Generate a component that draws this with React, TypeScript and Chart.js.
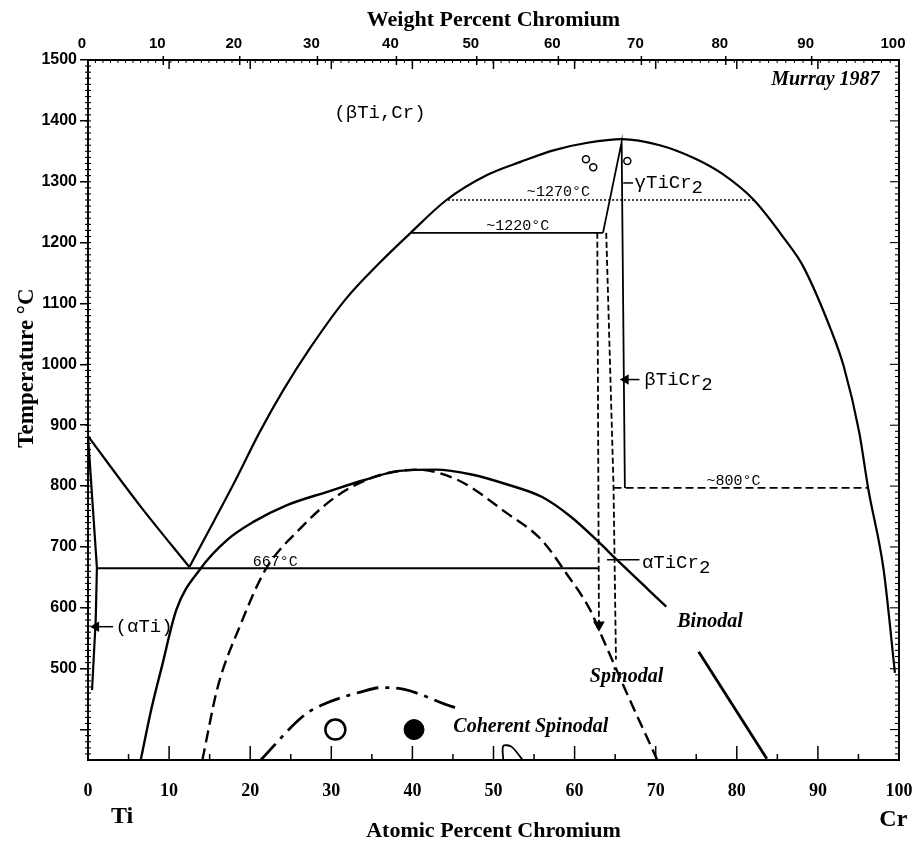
import React, { useEffect, useRef } from 'react';
import { Chart, registerables } from 'chart.js';

Chart.register(...registerables);

// ---------- axis values ----------
const atomicTicks = [0, 10, 20, 30, 40, 50, 60, 70, 80, 90, 100];
const weightTicks = [0, 10, 20, 30, 40, 50, 60, 70, 80, 90, 100];
const tempTicks = [400, 500, 600, 700, 800, 900, 1000, 1100, 1200, 1300, 1400, 1500];
const tempTickLabels = ['', '500', '600', '700', '800', '900', '1000', '1100', '1200', '1300', '1400', '1500'];

// ---------- curves: [at.% Cr, °C] ----------
const alphaTiBoundary: [number, number][] = [[0, 882], [1.1, 666], [0.95, 580], [0.5, 465]];
const betaTransusLeft: [number, number][] = [[0, 882], [6.4, 768], [12.5, 667]];
const betaBoundary: [number, number][] = [
  [12.5, 667], [18.2, 810], [21.1, 887], [24.1, 958], [27.5, 1029], [31.7, 1106], [35.9, 1166],
  [39.7, 1215], [44.2, 1270], [49.2, 1311], [53.4, 1333], [57.5, 1352], [61.6, 1364], [65.8, 1370],
  [70.5, 1360], [74.7, 1339], [78.1, 1314], [82.1, 1270], [86.0, 1204], [88.1, 1163], [91.6, 1057],
  [93.2, 996], [95.1, 888], [96.2, 796], [98.1, 663], [99.5, 493],
];
const eutectoid667: [number, number][] = [[1.1, 665], [62.9, 665]];
const binodalUpper: [number, number][] = [
  [6.5, 350], [7.8, 433], [9.1, 503], [10.9, 597], [13.8, 663], [17.2, 712], [20.5, 742], [24.4, 768],
  [29.6, 791], [34.1, 810], [38.4, 825], [42.9, 827], [47.3, 819], [51.6, 803], [56.0, 782], [59.5, 750],
  [62.9, 709], [65.2, 679], [71.3, 602],
];
const binodalLower: [number, number][] = [[75.3, 528], [83.7, 352]];
const spinodal: [number, number][] = [
  [14.1, 350], [16.0, 470], [18.7, 569], [21.9, 663], [26.0, 728], [30.5, 782], [35.3, 815], [40.6, 827],
  [45.6, 810], [51.6, 756], [55.9, 712], [58.9, 658], [61.9, 597], [63.0, 564], [66.4, 461], [70.2, 350],
];
const coherentSpinodal: [number, number][] = [
  [21.3, 350], [26.7, 424], [29.5, 444], [33.7, 462], [36.2, 469], [39.0, 466], [44.8, 438], [46.0, 433],
];
const gammaLaves: [number, number][] = [[63.5, 1216], [65.8, 1365], [66.2, 797]];
const line1220: [number, number][] = [[39.7, 1216], [63.5, 1216]];
const line1270: [number, number][] = [[44.4, 1270], [82.1, 1270]];
const line800: [number, number][] = [[64.8, 797], [96.2, 797]];
const lavesDashA: [number, number][] = [[62.8, 1216], [63.0, 572]];
const lavesDashB: [number, number][] = [[63.9, 1216], [64.8, 800], [65.1, 515]];
const smallBump: [number, number][] = [[51.2, 350], [51.2, 373], [52.2, 372], [53.6, 350]];
const openSample: [number, number][] = [[30.5, 400]];
const filledSample: [number, number][] = [[40.2, 400]];
const smallCircles: [number, number][] = [[61.4, 1337], [62.3, 1324], [66.5, 1334]];
const pointerGamma: [number, number][] = [[66.0, 1298], [67.2, 1298]];
const pointerBeta: [number, number][] = [[66.3, 975], [68.0, 975]];
const pointerAlphaLaves: [number, number][] = [[64.0, 679], [68.0, 679]];
const pointerAlphaTi: [number, number][] = [[1.0, 569], [3.1, 569]];

// ---------- text annotations (data coordinates) ----------
type Lab = { text: string; sub?: string; at: number; T: number; style: string; align: CanvasTextAlign };
const labels: Lab[] = [
  { text: '(βTi,Cr)', at: 36.0, T: 1413, style: 'phase', align: 'center' },
  { text: 'Murray 1987', at: 97.6, T: 1467, style: 'note', align: 'right' },
  { text: 'γTiCr', sub: '2', at: 67.4, T: 1298, style: 'phase', align: 'left' },
  { text: 'βTiCr', sub: '2', at: 68.6, T: 975, style: 'phase', align: 'left' },
  { text: 'αTiCr', sub: '2', at: 68.3, T: 673, style: 'phase', align: 'left' },
  { text: '(αTi)', at: 3.4, T: 569, style: 'phase', align: 'left' },
  { text: '~1270°C', at: 58.0, T: 1283, style: 'temp', align: 'center' },
  { text: '~1220°C', at: 53.0, T: 1228, style: 'temp', align: 'center' },
  { text: '~800°C', at: 79.6, T: 808, style: 'temp', align: 'center' },
  { text: '667°C', at: 23.1, T: 675, style: 'temp', align: 'center' },
  { text: 'Binodal', at: 76.7, T: 577, style: 'note', align: 'center' },
  { text: 'Spinodal', at: 66.4, T: 487, style: 'note', align: 'center' },
  { text: 'Coherent Spinodal', at: 54.6, T: 405, style: 'note', align: 'center' },
  { text: 'Ti', at: 4.2, T: 256, style: 'element', align: 'center' },
  { text: 'Cr', at: 99.3, T: 251, style: 'element', align: 'center' },
];
const labelFonts: Record<string, string> = {
  phase: '19px "Liberation Mono"',
  temp: '15px "Liberation Mono"',
  note: 'italic bold 20px "Liberation Serif"',
  element: 'bold 24px "Liberation Serif"',
};

const M_TI = 47.867;
const M_CR = 51.996;
const wtToAt = (w: number) => {
  const nCr = w / M_CR;
  const nTi = (100 - w) / M_TI;
  return (100 * nCr) / (nCr + nTi);
};

const pts = (a: [number, number][]) => a.map(([x, y]) => ({ x, y }));
const curve = (a: [number, number][], extra: any = {}) => ({
  data: pts(a),
  showLine: true,
  pointRadius: 0,
  borderColor: '#000',
  backgroundColor: '#000',
  borderWidth: 2.2,
  fill: false,
  tension: 0,
  ...extra,
});

const decorPlugin = {
  id: 'decor',
  afterDraw(chart: any) {
    const { ctx, chartArea: a, scales } = chart;
    const xs = scales.x;
    const ys = scales.y;
    const seg = (x1: number, y1: number, x2: number, y2: number) => {
      ctx.beginPath();
      ctx.moveTo(x1, y1);
      ctx.lineTo(x2, y2);
      ctx.stroke();
    };
    ctx.save();
    ctx.strokeStyle = '#000';
    ctx.fillStyle = '#000';
    ctx.lineWidth = 2;
    ctx.strokeRect(a.left, a.top, a.right - a.left, a.bottom - a.top);
    ctx.lineWidth = 1.1;
    for (let t = 360; t < 1500; t += 10) {
      const py = ys.getPixelForValue(t);
      const major = t % 100 === 0;
      seg(a.left - 3, py, a.left + 3, py);
      seg(a.right - (major ? 9 : 4), py, a.right, py);
    }
    for (let w = 1; w < 100; w++) {
      const px = xs.getPixelForValue(wtToAt(w));
      if (w % 10 === 0) {
        ctx.lineWidth = 1.5;
        seg(px, a.top - 4, px, a.top + 5);
      } else {
        ctx.lineWidth = 1;
        seg(px, a.top, px, a.top + 3);
      }
    }
    ctx.lineWidth = 1.5;
    for (let v = 10; v < 100; v += 10) {
      const px = xs.getPixelForValue(v);
      seg(px, a.top, px, a.top + 9);
    }
    for (let v = 5; v < 100; v += 5) {
      const px = xs.getPixelForValue(v);
      seg(px, a.bottom, px, a.bottom - (v % 10 === 0 ? 14 : 6));
    }
    ctx.textBaseline = 'middle';
    for (const lab of labels) {
      const px = xs.getPixelForValue(lab.at);
      const py = ys.getPixelForValue(lab.T);
      ctx.font = labelFonts[lab.style];
      ctx.textAlign = lab.align;
      ctx.fillText(lab.text, px, py);
      if (lab.sub) {
        const w = ctx.measureText(lab.text).width;
        ctx.textAlign = 'left';
        ctx.fillText(lab.sub, px + w, py + 5);
      }
    }
    ctx.save();
    ctx.translate(a.left - 61, ys.getPixelForValue(994));
    ctx.rotate(-Math.PI / 2);
    ctx.font = 'bold 23px "Liberation Serif"';
    ctx.textAlign = 'center';
    ctx.fillText('Temperature °C', 0, 0);
    ctx.restore();
    ctx.restore();
  },
};

export default function App() {
  const ref = useRef<HTMLCanvasElement>(null);
  useEffect(() => {
    const smooth = { cubicInterpolationMode: 'monotone' };
    const datasets: any[] = [
      curve(alphaTiBoundary, { borderWidth: 2.2 }),
      curve(betaTransusLeft, { borderWidth: 2.2, ...smooth }),
      curve(betaBoundary, { borderWidth: 2.2, ...smooth }),
      curve(eutectoid667, { borderWidth: 1.8 }),
      curve(binodalUpper, { borderWidth: 2.4, ...smooth }),
      curve(binodalLower, { borderWidth: 2.8 }),
      curve(spinodal, { borderWidth: 2.4, borderDash: [12, 6], ...smooth }),
      curve(coherentSpinodal, { borderWidth: 2.8, borderDash: [22, 7, 4, 7], ...smooth }),
      curve(gammaLaves, { borderWidth: 1.8 }),
      curve(line1220, { borderWidth: 1.8 }),
      curve(line1270, { borderWidth: 1.5, borderDash: [2, 2] }),
      curve(line800, { borderWidth: 1.7, borderDash: [8, 4] }),
      curve(lavesDashA, {
        borderWidth: 1.8, borderDash: [6, 3],
        pointRadius: [0, 5], pointStyle: 'triangle', pointRotation: 180,
      }),
      curve(lavesDashB, { borderWidth: 1.8, borderDash: [6, 3] }),
      curve(smallBump, { borderWidth: 1.8, tension: 0.3 }),
      curve(pointerGamma, { borderWidth: 1.5 }),
      curve(pointerBeta, { borderWidth: 1.5, pointRadius: [4.5, 0], pointStyle: 'triangle', pointRotation: -90 }),
      curve(pointerAlphaLaves, { borderWidth: 1.5 }),
      curve(pointerAlphaTi, { borderWidth: 1.5, pointRadius: [4.5, 0], pointStyle: 'triangle', pointRotation: -90 }),
      {
        data: pts(openSample), showLine: false, pointRadius: 10, pointBorderWidth: 2.5,
        pointBackgroundColor: '#fff', pointBorderColor: '#000',
      },
      {
        data: pts(filledSample), showLine: false, pointRadius: 10, pointBorderWidth: 1,
        pointBackgroundColor: '#000', pointBorderColor: '#000',
      },
      {
        data: pts(smallCircles), showLine: false, pointRadius: 3.5, pointBorderWidth: 1.5,
        pointBackgroundColor: '#fff', pointBorderColor: '#000',
      },
    ];
    const chart = new Chart(ref.current as HTMLCanvasElement, {
      type: 'scatter',
      data: { datasets },
      options: {
        responsive: false,
        maintainAspectRatio: false,
        animation: false,
        events: [],
        layout: { padding: { left: 0, right: 15, top: 0, bottom: 0 } },
        plugins: { legend: { display: false }, tooltip: { enabled: false } },
        scales: {
          x: {
            type: 'linear', position: 'bottom', min: 0, max: 100,
            afterBuildTicks: (s: any) => { s.ticks = atomicTicks.map((v) => ({ value: v })); },
            ticks: {
              autoSkip: false, maxRotation: 0, minRotation: 0, padding: 21, labelOffset: 0, color: '#000',
              font: { family: 'Liberation Serif', weight: 'bold', size: 18 },
              callback: (_v: any, i: number) => String(atomicTicks[i]),
            },
            grid: { display: false, drawTicks: false },
            border: { display: false },
            title: {
              display: true, text: 'Atomic Percent Chromium', color: '#000',
              font: { family: 'Liberation Serif', weight: 'bold', size: 22 },
              padding: { top: 0, bottom: 0 },
            },
            afterFit: (s: any) => { s.height = 85; s.paddingLeft = 0; s.paddingRight = 0; },
          },
          xTop: {
            type: 'linear', position: 'top', min: 0, max: 100,
            afterBuildTicks: (s: any) => { s.ticks = weightTicks.map((w) => ({ value: wtToAt(w) })); },
            ticks: {
              autoSkip: false, maxRotation: 0, minRotation: 0, padding: 7, labelOffset: -6, color: '#000',
              font: { family: 'Liberation Sans', weight: 'bold', size: 15 },
              callback: (_v: any, i: number) => String(weightTicks[i]),
            },
            grid: { display: false, drawTicks: false },
            border: { display: false },
            title: {
              display: true, text: 'Weight Percent Chromium', color: '#000',
              font: { family: 'Liberation Serif', weight: 'bold', size: 22 },
              padding: { top: 7, bottom: 0 },
            },
            afterFit: (s: any) => { s.height = 60; s.paddingLeft = 0; s.paddingRight = 0; },
          },
          y: {
            type: 'linear', position: 'left', min: 350, max: 1500,
            afterBuildTicks: (s: any) => { s.ticks = tempTicks.map((v) => ({ value: v })); },
            ticks: {
              autoSkip: false, padding: 3, color: '#000',
              font: { family: 'Liberation Sans', weight: 'bold', size: 16 },
              callback: (_v: any, i: number) => tempTickLabels[i],
            },
            grid: { display: true, drawOnChartArea: false, drawTicks: true, tickLength: 8, color: '#000', lineWidth: 1.5 },
            border: { display: false },
            afterFit: (s: any) => { s.width = 88; s.paddingTop = 0; s.paddingBottom = 0; },
          },
        },
      } as any,
      plugins: [decorPlugin],
    });
    return () => chart.destroy();
  }, []);
  return (
    <div style={{ position: 'fixed', left: 0, top: 0, width: 914, height: 845, background: '#fff' }}>
      <canvas ref={ref} width={914} height={845} style={{ width: 914, height: 845, display: 'block' }} />
    </div>
  );
}
